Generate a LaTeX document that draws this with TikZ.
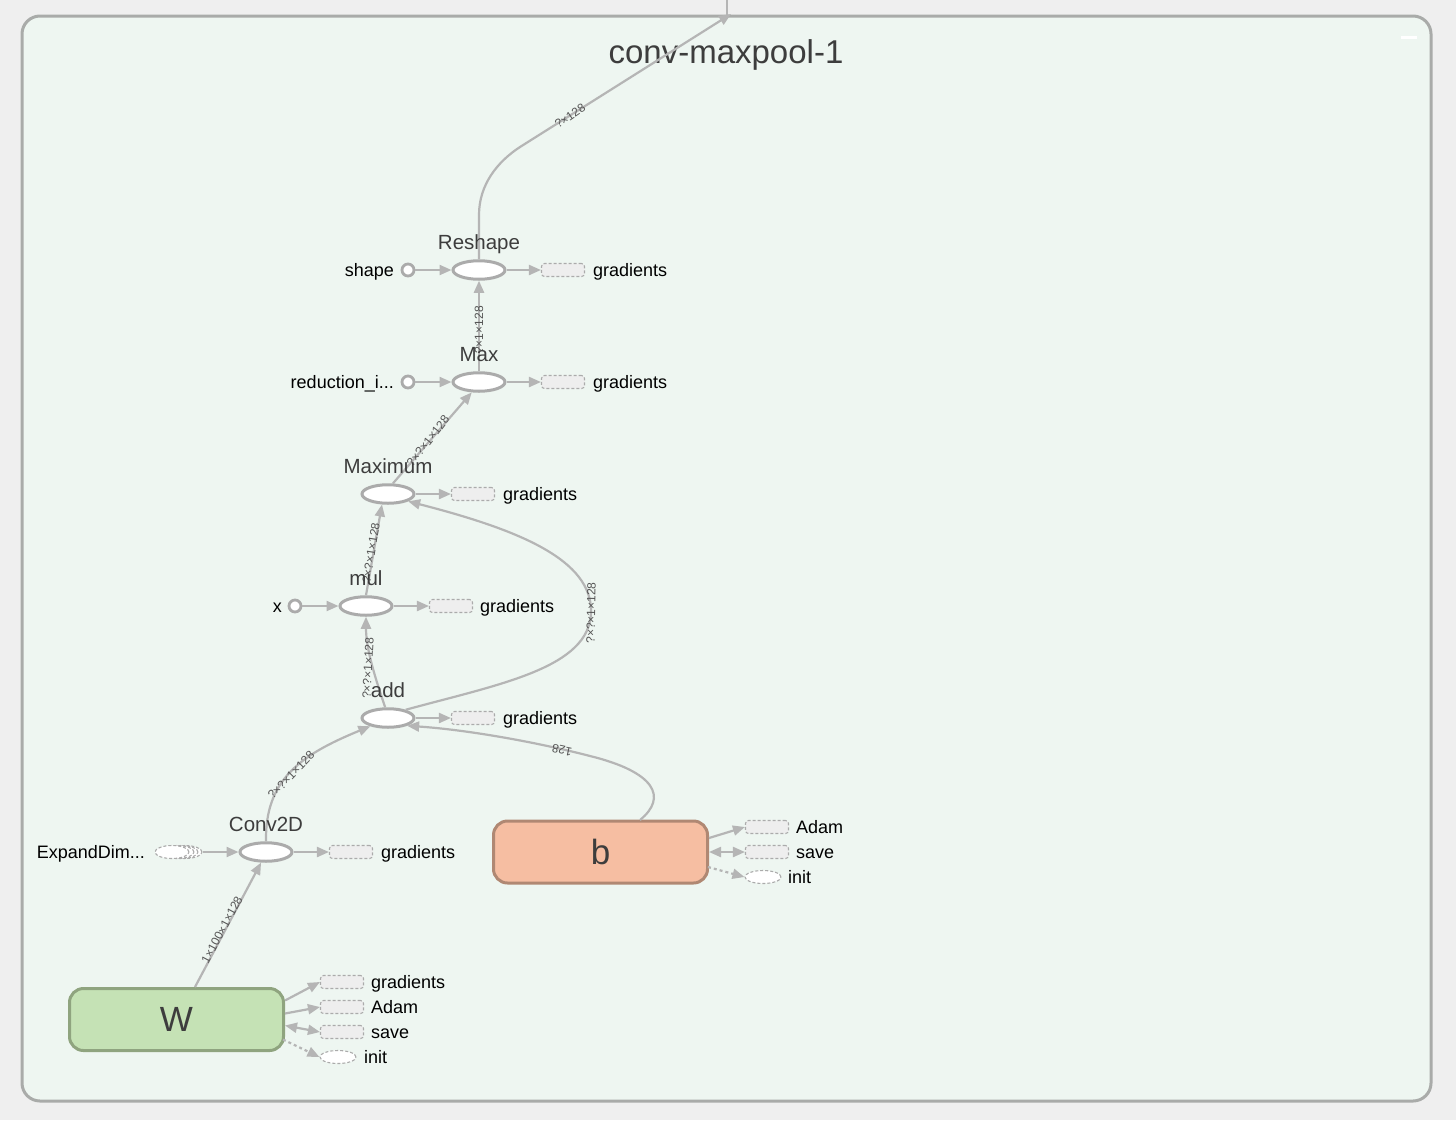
\documentclass[tikz,border=0pt]{standalone}
\usepackage{fontspec}
\setmainfont{Liberation Sans}
\usetikzlibrary{shapes.geometric,arrows.meta,calc}
\definecolor{bgc}{HTML}{EFEFEF}
\definecolor{boxfill}{HTML}{EEF6F1}
\definecolor{frame}{HTML}{A9ABA9}
\definecolor{edgec}{HTML}{B5B5B5}
\definecolor{nodeb}{HTML}{ABABAB}
\definecolor{dashc}{HTML}{ABABAB}
\definecolor{gfill}{HTML}{EEEEEE}
\definecolor{txtc}{HTML}{3D3D3D}
\definecolor{elabc}{HTML}{555555}
\definecolor{bfill}{HTML}{F6BEA2}
\definecolor{bdraw}{HTML}{B08873}
\definecolor{wfill}{HTML}{C5E2B5}
\definecolor{wdraw}{HTML}{8FA47F}
\begin{document}
\begin{tikzpicture}[x=1pt,y=-1pt,
  op/.style={ellipse, draw=nodeb, line width=3pt, fill=white, minimum width=52pt, minimum height=18.5pt, inner sep=0pt},
  cst/.style={circle, draw=nodeb, line width=2.8pt, fill=white, minimum size=12pt, inner sep=0pt},
  gbox/.style={rectangle, rounded corners=3pt, draw=dashc, line width=1.1pt, dash pattern=on 3pt off 2pt, fill=gfill, minimum width=43pt, minimum height=13pt, inner sep=0pt},
  iell/.style={ellipse, draw=dashc, line width=1.1pt, dash pattern=on 3pt off 2pt, fill=white, minimum width=36pt, minimum height=13pt, inner sep=0pt},
  varbox/.style={rectangle, rounded corners=14pt, line width=3pt, minimum width=214pt, minimum height=62pt, inner sep=0pt, text=txtc, font=\fontsize{35}{37}\selectfont},
  leaf/.style={font=\fontsize{18}{20}\selectfont, text=black, inner sep=0pt},
  opname/.style={font=\fontsize{20.5}{24}\selectfont, text=txtc, inner sep=0pt, anchor=base},
  elab/.style={font=\fontsize{12}{13}\selectfont, text=elabc, inner sep=0pt},
  conn/.style={draw=edgec, line width=2.2pt, -{Triangle[length=12pt,width=10pt]}},
  dconn/.style={conn, dash pattern=on 3pt off 3pt},
  bconn/.style={draw=edgec, line width=2.2pt, {Triangle[length=12pt,width=10pt]}-{Triangle[length=12pt,width=10pt]}}
]
\useasboundingbox (0,0) rectangle (1456,1120);
\fill[bgc] (0,0) rectangle (1456,1120);
\draw[rounded corners=18pt, draw=frame, line width=3pt, fill=boxfill] (22,16) rectangle (1431,1101);
\fill[white] (1401,36) rectangle (1417,39);
\node[font=\fontsize{33}{36}\selectfont, text=txtc, anchor=base, inner sep=0pt] (title) at (726,63) {conv-maxpool-1};

% op nodes
\node[op] (reshape) at (479,270) {};
\node[op] (max) at (479,382) {};
\node[op] (maximum) at (388,494) {};
\node[op] (mul) at (366,606) {};
\node[op] (add) at (388,718) {};
\node[op] (conv) at (266,852) {};

% constants
\node[cst] (shape) at (408,270) {};
\node[cst] (red) at (408,382) {};
\node[cst] (x) at (295,606) {};

% ExpandDims series
\node[iell, minimum width=34pt] (exp3) at (185,852) {};
\node[iell, minimum width=34pt] (exp2) at (181,852) {};
\node[iell, minimum width=34pt] (exp1) at (177,852) {};
\node[iell, minimum width=34pt] (exp) at (172,852) {};

% gradient boxes
\node[gbox] (rg) at (563,270) {};
\node[gbox] (mg) at (563,382) {};
\node[gbox] (mxg) at (473,494) {};
\node[gbox] (mulg) at (451,606) {};
\node[gbox] (addg) at (473,718) {};
\node[gbox] (cg) at (351,852) {};

% variables
\node[varbox, fill=bfill, draw=bdraw] (b) at (600.5,852) {b};
\node[varbox, fill=wfill, draw=wdraw] (W) at (176.5,1019.5) {W};

\node[gbox] (bA) at (767,827) {};
\node[gbox] (bS) at (767,852) {};
\node[iell] (bI) at (763,877) {};
\node[gbox] (wG) at (342,982) {};
\node[gbox] (wA) at (342,1007) {};
\node[gbox] (wS) at (342,1032) {};
\node[iell] (wI) at (338,1057) {};

\coordinate (out) at (731,14);
\coordinate (outtop) at (727,0);
\coordinate (outbot) at (727,15);
\coordinate (bstart) at (640,820);
\coordinate (wstart) at (195,987);

% edges
\draw[draw=edgec, line width=2.2pt] (outtop) -- (outbot);
\draw[conn] (reshape.north) -- (479,215) .. controls (479,185) and (497,162) .. (520,147) -- (out);
\draw[conn] (shape) -- (reshape);
\draw[conn] (reshape) -- (rg);
\draw[conn] (red) -- (max);
\draw[conn] (max) -- (mg);
\draw[conn] (max) -- (reshape);
\draw[conn] (maximum.65) -- (max.235);
\draw[conn] (maximum) -- (mxg);
\draw[conn] (mul.north) -- (maximum.240);
\draw[conn] (x) -- (mul);
\draw[conn] (mul) -- (mulg);
\draw[conn] (add.105) .. controls (376,680) and (366,650) .. (mul.south);
\draw[conn] (add.25) .. controls (500,684) and (590,668) .. (591,612) .. controls (592,560) and (520,530) .. (maximum.-20);
\draw[conn] (add) -- (addg);
\draw[conn] (conv.north) .. controls (265,780) and (300,755) .. (add.205);
\draw[conn] (bstart) .. controls (668,797) and (655,772) .. (590,756) .. controls (540,743) and (470,730) .. (add.-22);
\draw[conn] (exp3) -- (conv);
\draw[conn] (conv) -- (cg);
\draw[conn] (wstart) -- (conv.245);

\draw[conn] ($(b.east)+(0,-14)$) -- (bA.west);
\draw[bconn] (b.east) -- (bS.west);
\draw[dconn] ($(b.east)+(-1,15)$) -- (bI.west);
\draw[conn] ($(W.east)+(0,-19)$) -- (wG.west);
\draw[conn] ($(W.east)+(0,-6)$) -- (wA.west);
\draw[bconn] ($(W.east)+(0,6)$) -- (wS.west);
\draw[dconn] ($(W.east)+(-2,20)$) -- (wI.west);

% edge labels
\node[elab, rotate=34] (l1) at (570,116) {?×128};
\node[elab, rotate=90] (l2) at (479,330) {?×1×128};
\node[elab, rotate=52] (l3) at (428,441) {?×?×1×128};
\node[elab, rotate=81] (l4) at (371,553) {?×?×1×128};
\node[elab, rotate=87] (l5) at (368,668) {?×?×1×128};
\node[elab, rotate=89] (l6) at (591,613) {?×?×1×128};
\node[elab, rotate=46] (l7) at (291,775) {?×?×1×128};
\node[elab, rotate=168] (l8) at (562,750) {128};
\node[elab, rotate=62] (l9) at (222,930) {1×100×1×128};

% op names
\node[opname] (nreshape) at (479,249) {Reshape};
\node[opname] (nmax) at (479,361) {Max};
\node[opname] (nmaximum) at (388,473) {Maximum};
\node[opname] (nmul) at (366,585) {mul};
\node[opname] (nadd) at (388,697) {add};
\node[opname] (nconv) at (266,831) {Conv2D};

% leaf labels
\node[leaf, anchor=base east] (tshape) at (394,276.5) {shape};
\node[leaf, anchor=base east] (tred) at (394,388.5) {reduction\_i...};
\node[leaf, anchor=base east] (tx) at (282,612.5) {x};
\node[leaf, anchor=base east] (texp) at (145,858.5) {ExpandDim...};
\node[leaf, anchor=base west] (t1) at (593,276.5) {gradients};
\node[leaf, anchor=base west] (t2) at (593,388.5) {gradients};
\node[leaf, anchor=base west] (t3) at (503,500.5) {gradients};
\node[leaf, anchor=base west] (t4) at (480,612.5) {gradients};
\node[leaf, anchor=base west] (t5) at (503,724.5) {gradients};
\node[leaf, anchor=base west] (t6) at (381,858.5) {gradients};
\node[leaf, anchor=base west] (tbA) at (796,833.5) {Adam};
\node[leaf, anchor=base west] (tbS) at (796,858.5) {save};
\node[leaf, anchor=base west] (tbI) at (788,883.5) {init};
\node[leaf, anchor=base west] (twG) at (371,988.5) {gradients};
\node[leaf, anchor=base west] (twA) at (371,1013.5) {Adam};
\node[leaf, anchor=base west] (twS) at (371,1038.5) {save};
\node[leaf, anchor=base west] (twI) at (364,1063.5) {init};
\end{tikzpicture}
\end{document}
